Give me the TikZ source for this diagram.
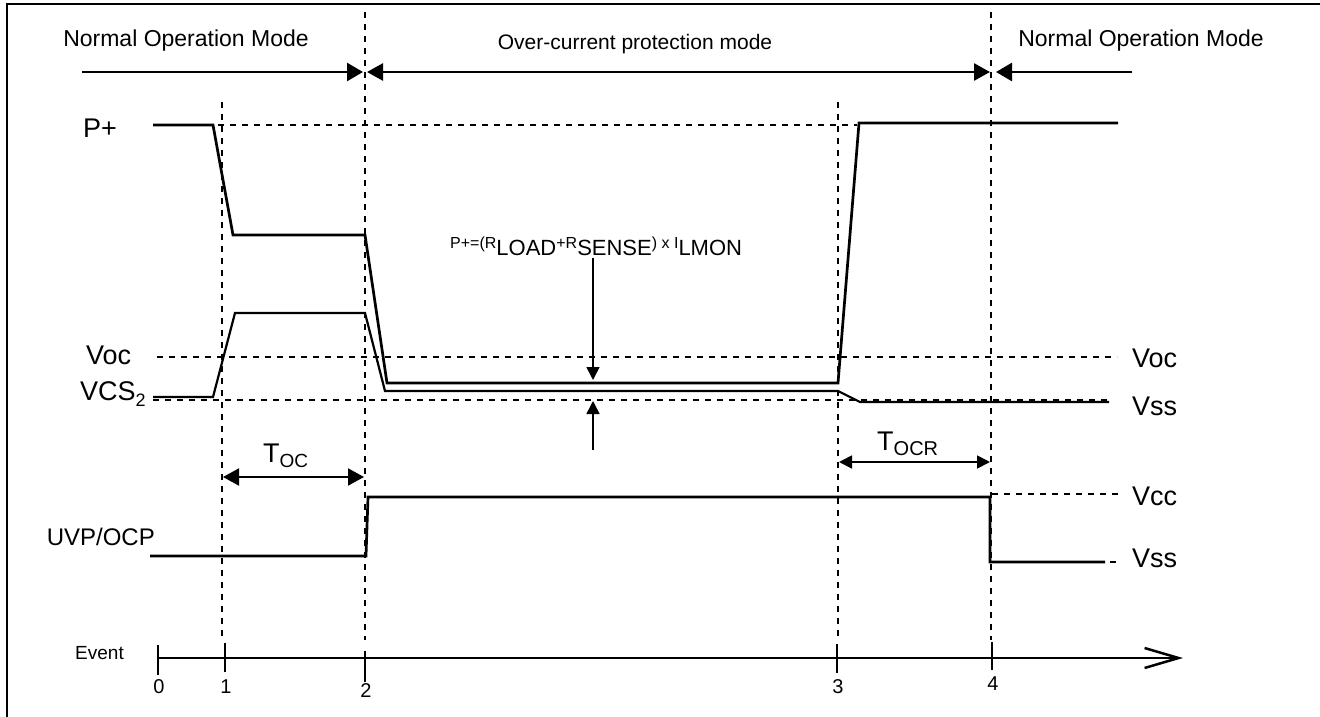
\documentclass[tikz,border=0pt]{standalone}
\usepackage{fontspec}
\setmainfont{Liberation Sans}
\usetikzlibrary{arrows.meta}
\newcommand{\fsz}[1]{\fontsize{#1}{#1}\selectfont}
\begin{document}
\begin{tikzpicture}[x=1pt,y=-1pt,every node/.style={inner sep=0pt,font=\fsz{27}},
  sig/.style={line width=2.7pt},
  guide/.style={line width=1.4pt,dash pattern=on 6pt off 6pt},
  modearrow/.style={line width=2.6pt,-{Triangle[length=16pt,width=18pt]}},
  spanarrow/.style={line width=2pt,{Triangle[length=16pt,width=17pt]}-{Triangle[length=16pt,width=17pt]}},
  levelarrow/.style={line width=1.6pt,-{Triangle[length=13pt,width=13pt]}}]
\useasboundingbox (0,0) rectangle (1320,717);
\draw[line width=1.5pt] (7,717) -- (7,4) -- (1320,4);
% modes
\node[anchor=base,font=\fsz{23}] (normal1) at (186,47) {Normal Operation Mode};
\node[anchor=base,font=\fsz{21}] (ocmode) at (635,49) {Over-current protection mode};
\node[anchor=base,font=\fsz{23}] (normal2) at (1141,47) {Normal Operation Mode};
\coordinate (nl) at (82,72);
\coordinate (ev2a) at (363,72);
\coordinate (ev2b) at (367,72);
\coordinate (ev4a) at (990,72);
\coordinate (ev4b) at (996,72);
\coordinate (nr) at (1132,72);
\draw[modearrow] (nl) -- (ev2a);
\draw[spanarrow,line width=2.6pt] (ev2b) -- (ev4a);
\draw[modearrow] (nr) -- (ev4b);
% event guides
\draw[guide] (222,102) -- (222,640);
\draw[guide] (365,12) -- (365,640);
\draw[guide] (838,102) -- (838,640);
\draw[guide] (991,12) -- (991,640);
% level guides
\draw[guide] (218,125) -- (857,125);
\draw[guide] (157,357) -- (1117,357);
\draw[guide] (153,400) -- (1110,400);
\draw[guide] (992,494) -- (1118,494);
\draw[guide] (990,562) -- (1118,562);
% signal labels
\node[anchor=base west] (pplus) at (83,137) {P+};
\node[anchor=base west] (voc) at (86,364) {Voc};
\node[anchor=base west] (vcs) at (80,400) {VCS\raisebox{-6pt}{\fsz{18}2}};
\node[anchor=base east,font=\fsz{24}] (uvp) at (155,545) {UVP/OCP};
\node[anchor=base west] (vocr) at (1132,367) {Voc};
\node[anchor=base west] (vssr) at (1132,415) {Vss};
\node[anchor=base west] (vccr) at (1132,505) {Vcc};
\node[anchor=base west] (vssl) at (1132,567) {Vss};
% signals
\draw[sig] (153,125) -- (213,125) -- (233,235) -- (365,235) -- (387,383) -- (838,383) -- (859,123) -- (1118,123);
\draw[sig,line width=2.2pt] (153,397) -- (213,397) -- (235,313) -- (365,313) -- (385,391) -- (838,391) -- (860,402) -- (1109,402);
\draw[sig] (150,556) -- (366,556) -- (368,497) -- (990,497) -- (990,562) -- (1105,562);
% over-current level
\node[anchor=base west] (level) at (450,248) {\fsz{16}P+=(R\raisebox{-7pt}{\fsz{22}LOAD}+R\raisebox{-7pt}{\fsz{22}SENSE}) x I\raisebox{-7pt}{\fsz{22}LMON}};
\coordinate (lvtop) at (593,258);
\coordinate (lvhi) at (593,380);
\coordinate (lvlo) at (593,401);
\coordinate (lvbot) at (593,450);
\draw[levelarrow] (lvtop) -- (lvhi);
\draw[levelarrow] (lvbot) -- (lvlo);
% timers
\node[anchor=base west] (toc) at (263,462) {T\raisebox{-5pt}{\fsz{19}OC}};
\draw[spanarrow] (223,477) -- (364,477);
\node[anchor=base west] (tocr) at (877,450) {T\raisebox{-5pt}{\fsz{20}OCR}};
\draw[spanarrow,line width=1.8pt,{Triangle[length=13pt,width=13pt]}-{Triangle[length=13pt,width=13pt]}] (839,462) -- (990,462);
% event axis
\node[anchor=base east,font=\fsz{19}] (event) at (124,659) {Event};
\coordinate (ax0) at (158,658);
\coordinate (axend) at (1183,658);
\draw[line width=2.2pt,-{Straight Barb[length=34pt,width=20pt,line width=2.5pt]}] (ax0) -- (axend);
\foreach \x/\n/\ta/\tb/\ly in {158/0/645/675/693,225/1/643/672/693,365/2/651/682/697,837/3/644/673/693,992/4/642/670/690}{
  \draw[line width=2pt] (\x,\ta) -- (\x,\tb);
  \node[anchor=base,font=\fsz{20}] (ev\n) at (\x+1,\ly) {\n};
}
\end{tikzpicture}
\end{document}
